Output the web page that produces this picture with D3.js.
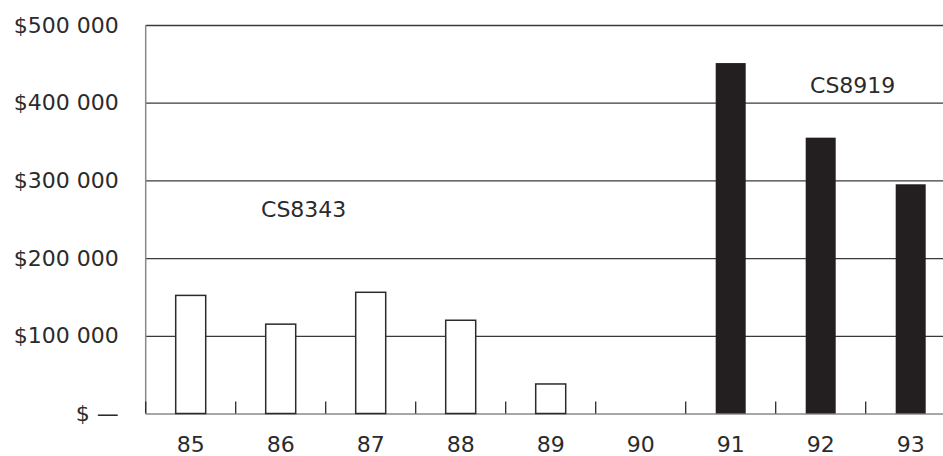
<!DOCTYPE html>
<html><head><meta charset="utf-8">
<script src="https://cdn.jsdelivr.net/npm/d3@7"></script>
<style>
html,body{margin:0;padding:0;background:#fff;overflow:hidden;}
svg{display:block;font-family:"DejaVu Sans",sans-serif;}
</style></head>
<body>
<svg id="chart" width="943" height="456"></svg>
<script>
const years = ["85","86","87","88","89","90","91","92","93"];
const series = ["CS8343","CS8343","CS8343","CS8343","CS8343","CS8343","CS8919","CS8919","CS8919"];
const values = [152000, 115000, 156000, 120000, 38000, 0, 451000, 355000, 295000];
const yTicks = [0, 100000, 200000, 300000, 400000, 500000];
const yTickLabels = ["$ —", "$100 000", "$200 000", "$300 000", "$400 000", "$500 000"];
const seriesLabels = [{name:"CS8343", year:"86", value:252500}, {name:"CS8919", year:"92", value:412000}];

(function(){
const svg = d3.select("#chart");
const pLeft = 145.7, pTop = 25, pBottom = 413.5, pRight = 955.7;
const x = d3.scaleBand().domain(years).range([pLeft, pRight]).paddingInner(2/3).paddingOuter(1/3);
const y = d3.scaleLinear().domain([0, 500000]).range([pBottom, pTop]);
const textColor = "#2b2b2b";

// grid lines + y labels
const yAxis = d3.axisLeft(y).tickValues(yTicks)
  .tickFormat((d,i) => yTickLabels[i])
  .tickSize(-(pRight - pLeft)).tickPadding(27);
const gy = svg.append("g").attr("transform", `translate(${pLeft},0)`).call(yAxis);
gy.select(".domain").remove();
gy.selectAll(".tick line").attr("stroke", "#3a3a3a").attr("stroke-width", 1.3)
  .filter(d => d === 0).attr("stroke", "#8a8a8a").attr("stroke-width", 1.5);
gy.selectAll(".tick text").attr("fill", textColor).attr("font-size", 22)
  .attr("font-family", "'DejaVu Sans', sans-serif");

// left axis line
svg.append("line").attr("x1", pLeft).attr("x2", pLeft).attr("y1", y(500000)).attr("y2", y(0))
  .attr("stroke", "#8a8a8a").attr("stroke-width", 1.5);

// x-axis ticks at band boundaries
const boundaries = years.map(d => x(d) - x.step() * x.paddingOuter());
boundaries.push(pRight);
svg.append("g").selectAll("line").data(boundaries).join("line")
  .attr("x1", d => d).attr("x2", d => d)
  .attr("y1", y(0)).attr("y2", y(0) - 12)
  .attr("stroke", "#2b2b2b").attr("stroke-width", 1.3);

// x labels
const xAxis = d3.axisBottom(x).tickSize(0).tickPadding(23);
const gx = svg.append("g").attr("transform", `translate(0,${pBottom})`).call(xAxis);
gx.select(".domain").remove();
gx.selectAll(".tick text").attr("fill", textColor).attr("font-size", 22)
  .attr("font-family", "'DejaVu Sans', sans-serif");

// bars
svg.append("g").selectAll("rect").data(values).join("rect")
  .attr("x", (d,i) => x(years[i]))
  .attr("width", x.bandwidth())
  .attr("y", d => y(d))
  .attr("height", d => y(0) - y(d))
  .attr("fill", (d,i) => series[i] === "CS8919" ? "#231f20" : "#fff")
  .attr("stroke", (d,i) => series[i] === "CS8919" ? "none" : "#2b2b2b")
  .attr("stroke-width", 1.5)
  .attr("display", d => d > 0 ? null : "none");

// series labels
svg.append("g").selectAll("text").data(seriesLabels).join("text")
  .attr("x", d => x(d.year) + x.bandwidth()/2 + (d.name === "CS8343" ? 23 : 32))
  .attr("y", d => y(d.value))
  .attr("font-size", 22).attr("fill", textColor)
  .attr("font-family", "'DejaVu Sans', sans-serif")
  .attr("text-anchor", "middle")
  .text(d => d.name);
})();
</script>
</body></html>
